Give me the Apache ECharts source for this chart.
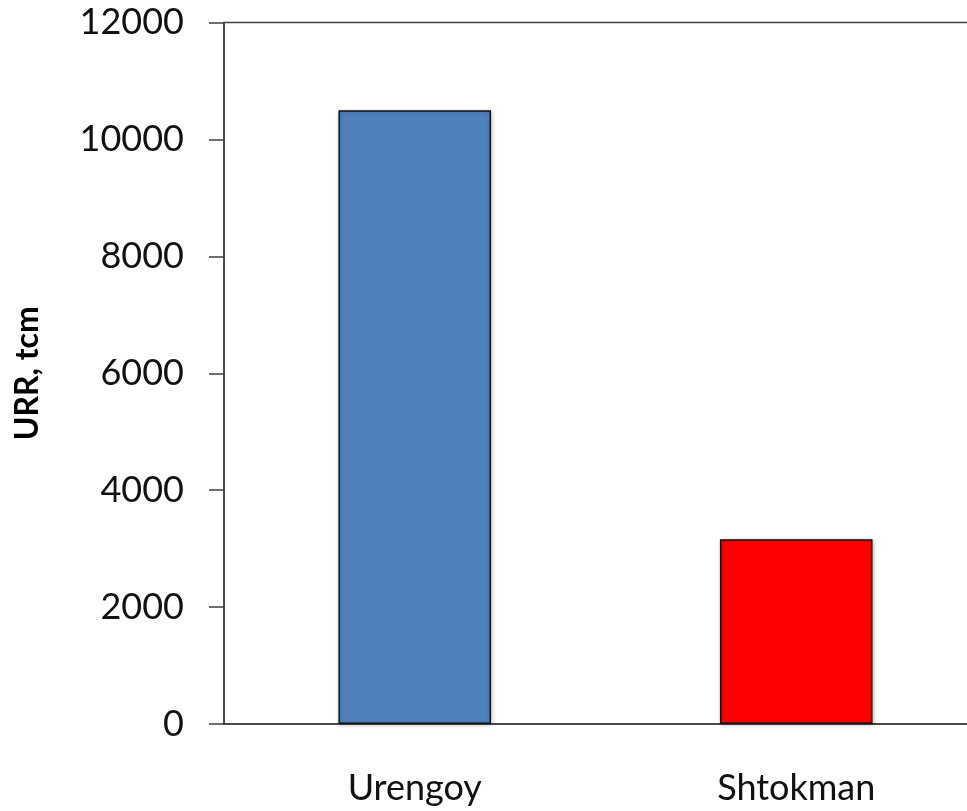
<!DOCTYPE html>
<html>
<head>
<meta charset="utf-8">
<script src="https://cdn.jsdelivr.net/npm/echarts@6/dist/echarts.min.js"></script>
<style>
html,body{margin:0;padding:0;background:#fff;}
#chart{width:967px;height:811px;}
</style>
</head>
<body>
<div id="chart"></div>
<script>
const categories = ["Urengoy", "Shtokman"];
const values = [10500, 3160];
const barColors = ["#4F81BD", "#FF0000"];
const yAxisTitle = "URR, tcm";

const chart = echarts.init(document.getElementById('chart'), null, {renderer: 'canvas'});
const font = 'Lato, "Open Sans", sans-serif';
chart.setOption({
  animation: false,
  backgroundColor: '#fff',
  grid: {
    left: 224, top: 22.5, width: 763, bottom: 87,
    outerBoundsMode: 'none',
    show: true, borderColor: '#404040', borderWidth: 1.5, backgroundColor: 'transparent',
    containLabel: false
  },
  xAxis: {
    type: 'category',
    data: categories,
    axisLine: {show: true, lineStyle: {color: '#404040', width: 1.5}},
    axisTick: {show: false},
    axisLabel: {color: '#111', fontFamily: font, fontSize: 36, margin: 46}
  },
  yAxis: {
    type: 'value',
    min: 0, max: 12000, interval: 2000,
    name: yAxisTitle,
    nameLocation: 'middle',
    nameGap: 180,
    nameRotate: 90,
    nameTextStyle: {color: '#000', fontFamily: font, fontSize: 32, fontWeight: 'bold'},
    axisLine: {show: true, lineStyle: {color: '#404040', width: 1.5}},
    axisTick: {show: true, length: 15, lineStyle: {color: '#404040', width: 1.5}},
    splitLine: {show: false},
    axisLabel: {color: '#111', fontFamily: font, fontSize: 36, margin: 40,
      formatter: v => String(v)}
  },
  series: [{
    type: 'bar',
    barWidth: '40%',
    data: values.map((v, i) => ({
      value: v,
      itemStyle: {color: barColors[i], borderColor: '#111', borderWidth: 1.5,
        shadowColor: 'rgba(0,0,0,0.25)', shadowBlur: 4, shadowOffsetX: 1, shadowOffsetY: 1}
    }))
  }]
});
</script>
</body>
</html>
